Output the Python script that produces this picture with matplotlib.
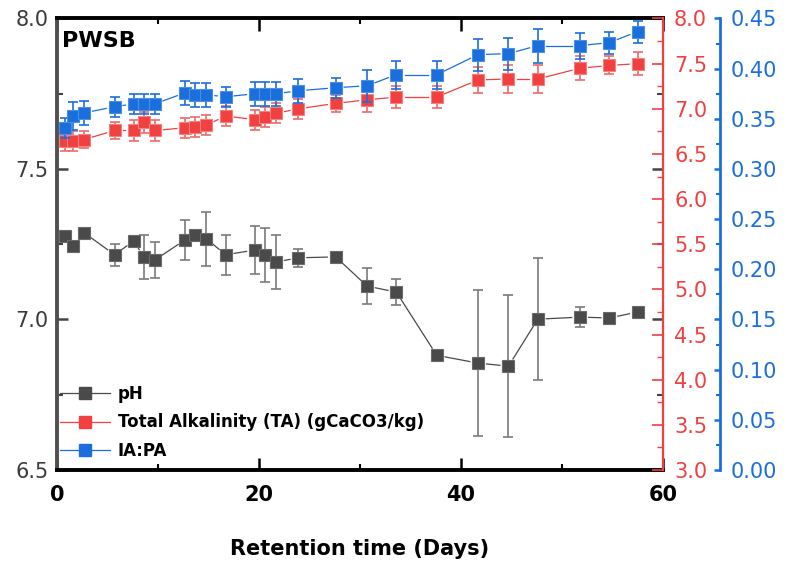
import matplotlib
matplotlib.use("Agg")
import matplotlib.pyplot as plt
from matplotlib.ticker import MultipleLocator, FormatStrFormatter
from matplotlib.lines import Line2D
import numpy as np

# ---------------- data ----------------
days = [0.8, 1.6, 2.7, 5.7, 7.6, 8.6, 9.7, 12.7, 13.7, 14.8, 16.7, 19.6, 20.6,
        21.7, 23.9, 27.6, 30.7, 33.6, 37.6, 41.7, 44.7, 47.6, 51.8, 54.7, 57.5]

ph = [7.278, 7.245, 7.288, 7.215, 7.261, 7.208, 7.198, 7.265, 7.281, 7.268,
      7.215, 7.231, 7.215, 7.191, 7.205, 7.208, 7.111, 7.091, 6.881, 6.855,
      6.845, 7.001, 7.008, 7.005, 7.025]
ph_err = [0.01, 0.01, 0.01, 0.037, 0.01, 0.073, 0.06, 0.067, 0.0, 0.09,
          0.067, 0.08, 0.09, 0.09, 0.03, 0.0, 0.06, 0.043, 0.0, 0.243,
          0.237, 0.203, 0.033, 0.01, 0.0]

ta = [6.64, 6.64, 6.66, 6.76, 6.76, 6.85, 6.76, 6.79, 6.80, 6.82, 6.92, 6.88,
      6.91, 6.95, 7.00, 7.06, 7.10, 7.13, 7.13, 7.32, 7.33, 7.33, 7.45, 7.48, 7.50]
ta_err = [0.11, 0.11, 0.09, 0.09, 0.12, 0.12, 0.12, 0.11, 0.11, 0.11, 0.11, 0.11,
          0.11, 0.11, 0.11, 0.09, 0.14, 0.12, 0.12, 0.14, 0.16, 0.16, 0.13, 0.10, 0.13]

iapa = [0.341, 0.353, 0.356, 0.362, 0.365, 0.365, 0.365, 0.376, 0.374, 0.374,
        0.372, 0.375, 0.375, 0.375, 0.378, 0.381, 0.383, 0.394, 0.394, 0.414,
        0.415, 0.423, 0.423, 0.426, 0.437]
iapa_err = [0.010, 0.014, 0.012, 0.010, 0.010, 0.010, 0.010, 0.012, 0.012, 0.012,
            0.010, 0.012, 0.012, 0.012, 0.012, 0.010, 0.016, 0.014, 0.014, 0.016,
            0.016, 0.017, 0.013, 0.011, 0.011]

labels = ["pH", "Total Alkalinity (TA) (gCaCO3/kg)", "IA:PA"]
panel_title = "PWSB"
xlabel = "Retention time (Days)"

# ---------------- style ----------------
plt.rcParams['font.family'] = ['DejaVu Sans']
GRAY = "#4a4a4a"
RED = "#f0403f"
BLUE = "#1b6fdc"

fig = plt.figure(figsize=(7.89, 5.65), dpi=100)
ax = fig.add_axes([0.07224, 0.16814, 0.76806, 0.79912])
ax2 = ax.twinx()
ax3 = ax.twinx()
ax3.spines['right'].set_position(('axes', 1.094))

ax.set_xlim(0, 60)
ax.set_ylim(6.5, 8.0)
ax2.set_ylim(3.0, 8.0)
ax3.set_ylim(0.0, 0.45)

GAP = 8.5  # px between line ends and marker centres (Origin-style gaps)


def gapped_line(a, x, y, color):
    pts = a.transData.transform(np.column_stack([x, y]))
    inv = a.transData.inverted()
    for p, q in zip(pts[:-1], pts[1:]):
        d = q - p
        L = np.hypot(*d)
        if L <= 2 * GAP + 1:
            continue
        u = d / L
        seg = inv.transform(np.array([p + u * GAP, q - u * GAP]))
        a.plot(seg[:, 0], seg[:, 1], '-', color=color, lw=0.9, zorder=1)


def draw(a, y, err, color, ecolor, edge):
    a.errorbar(days, y, yerr=err, fmt='none', ecolor=ecolor, elinewidth=1.2,
               capsize=3.5, capthick=1.2, zorder=2)
    gapped_line(a, days, y, color)
    a.plot(days, y, 's', color=color, ms=8.5, mec=edge, mew=0.8, zorder=3)


draw(ax, ph, ph_err, GRAY, "#7a7a7a", "#6a6a6a")
draw(ax2, ta, ta_err, RED, "#f06a6a", "#f58080")
draw(ax3, iapa, iapa_err, BLUE, BLUE, "#4a8fe6")

hs = [Line2D([], [], color=c, lw=0.9, marker='s', ms=8.5, mec=c)
      for c in (GRAY, RED, BLUE)]
leg = ax.legend(hs, labels, loc='lower left', bbox_to_anchor=(-0.006, 0.008),
                frameon=False, handlelength=3.0, handletextpad=0.45,
                labelspacing=0.62, borderaxespad=0.0,
                prop={'weight': 'bold', 'size': 12})

ax.text(0.008, 0.972, panel_title, transform=ax.transAxes, fontsize=16,
        fontweight='bold', va='top', ha='left')

# ---------------- axes formatting ----------------
ax.xaxis.set_major_locator(MultipleLocator(20))
ax.xaxis.set_minor_locator(MultipleLocator(10))
ax.yaxis.set_major_locator(MultipleLocator(0.5))
ax.yaxis.set_minor_locator(MultipleLocator(0.25))
ax.yaxis.set_major_formatter(FormatStrFormatter('%.1f'))
ax.tick_params(axis='both', which='both', direction='in', top=True, right=True)
ax.tick_params(axis='x', which='major', length=9, width=1.8, labelsize=15,
               pad=11, labelcolor='black')
ax.tick_params(axis='x', which='minor', length=4, width=1.5)
ax.tick_params(axis='y', which='major', length=8, width=1.8, labelsize=15,
               pad=6, labelcolor='#3a3a3a', color='#444444')
ax.tick_params(axis='y', which='minor', length=4, width=1.5, color='#444444')
for lab in ax.get_xticklabels():
    lab.set_fontweight('bold')
ax.set_xlabel(xlabel, fontsize=15, fontweight='bold', labelpad=24)

for s in ('top', 'bottom'):
    ax.spines[s].set_linewidth(2.8)
    ax.spines[s].set_color('black')
ax.spines['left'].set_linewidth(2.8)
ax.spines['left'].set_color('#505050')
ax.spines['right'].set_visible(False)

for s in ('left', 'top', 'bottom'):
    ax2.spines[s].set_visible(False)
    ax3.spines[s].set_visible(False)

ax2.spines['right'].set_color(RED)
ax2.spines['right'].set_linewidth(1.6)
ax2.yaxis.set_major_locator(MultipleLocator(0.5))
ax2.yaxis.set_minor_locator(MultipleLocator(0.25))
ax2.yaxis.set_major_formatter(FormatStrFormatter('%.1f'))
ax2.tick_params(axis='y', which='both', direction='in', colors=RED)
ax2.tick_params(axis='y', which='major', length=8, width=1.2, labelsize=15, pad=8)
ax2.tick_params(axis='y', which='minor', length=4, width=1.0)

ax3.spines['right'].set_color(BLUE)
ax3.spines['right'].set_linewidth(2.0)
ax3.yaxis.set_major_locator(MultipleLocator(0.05))
ax3.yaxis.set_minor_locator(MultipleLocator(0.025))
ax3.yaxis.set_major_formatter(FormatStrFormatter('%.2f'))
ax3.tick_params(axis='y', which='both', direction='in', colors=BLUE)
ax3.tick_params(axis='y', which='major', length=4, width=1.8, labelsize=15, pad=8)
ax3.tick_params(axis='y', which='minor', length=3, width=1.5)

fig.savefig("out.png", dpi=100)
